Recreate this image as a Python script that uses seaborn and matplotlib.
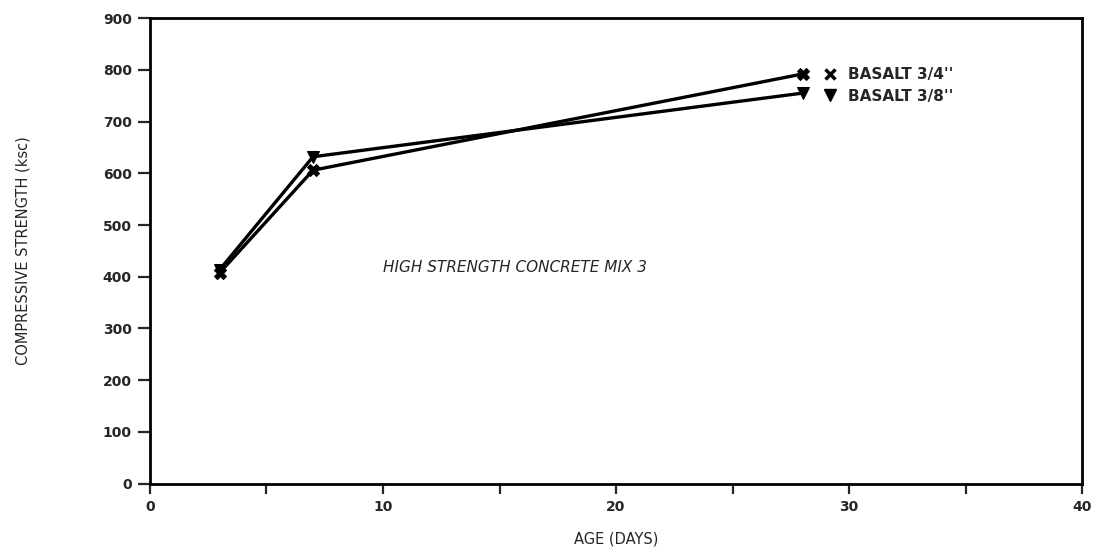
import matplotlib
matplotlib.use("Agg")
import matplotlib.pyplot as plt
from matplotlib.lines import Line2D
from matplotlib.ticker import MultipleLocator
import seaborn as sns
import pandas as pd

# ---- data ----
age_days = [3, 7, 28]
basalt_34 = [408, 606, 792]
basalt_38 = [414, 632, 755]
series_names = ["BASALT 3/4''", "BASALT 3/8''"]
annotation = "HIGH STRENGTH CONCRETE MIX 3"
x_ticks = [0, 10, 20, 30, 40]
y_ticks = [0, 100, 200, 300, 400, 500, 600, 700, 800, 900]

df = pd.DataFrame({
    "age": age_days * 2,
    "strength": basalt_34 + basalt_38,
    "series": [series_names[0]] * 3 + [series_names[1]] * 3,
})

sns.set_style("ticks")
plt.rcParams["font.family"] = ["DejaVu Sans"]

fig = plt.figure(figsize=(11.10, 5.49), dpi=100)
ax = fig.add_axes([0.135, 0.119, 0.840, 0.848])

markers = {series_names[0]: "X", series_names[1]: "v"}
sns.lineplot(data=df, x="age", y="strength", hue="series", style="series",
             markers=markers, dashes=False, palette=["black", "black"],
             linewidth=2.4, markersize=9, markeredgecolor="black",
             legend=False, ax=ax)

ax.set_xlim(0, 40)
ax.set_ylim(0, 900)
ax.set_xticks(x_ticks)
ax.set_xticklabels([str(t) for t in x_ticks])
ax.xaxis.set_minor_locator(MultipleLocator(5))
ax.set_yticks(y_ticks)
ax.set_yticklabels([str(t) for t in y_ticks])

for s in ax.spines.values():
    s.set_linewidth(2.0)
    s.set_color("black")
    s.set_visible(True)

ax.tick_params(axis="x", which="both", direction="out", length=7, width=1.6,
               labelsize=10, pad=5)
ax.tick_params(axis="y", which="major", direction="out", length=9, width=1.6,
               labelsize=10, pad=4)
for lab in ax.get_xticklabels() + ax.get_yticklabels():
    lab.set_fontweight("bold")

ax.set_xlabel("AGE (DAYS)", fontsize=10.5, labelpad=12)
ax.set_ylabel("COMPRESSIVE STRENGTH (ksc)", fontsize=10.5, labelpad=52)

ax.text(10.0, 417, annotation, fontsize=11, style="italic",
        ha="left", va="center")

handles = [Line2D([], [], color="black", marker="x", linestyle="none",
                  markersize=7, markeredgewidth=2.5),
           Line2D([], [], color="black", marker="v", linestyle="none", markersize=8)]
leg = ax.legend(handles, series_names, loc="upper left", bbox_to_anchor=(0.711, 0.917),
                frameon=False, fontsize=11, handlelength=0.8, handletextpad=0.8,
                labelspacing=0.4, borderpad=0.2)
for t in leg.get_texts():
    t.set_fontweight("semibold")

fig.savefig("out.png", dpi=100, facecolor="white")
